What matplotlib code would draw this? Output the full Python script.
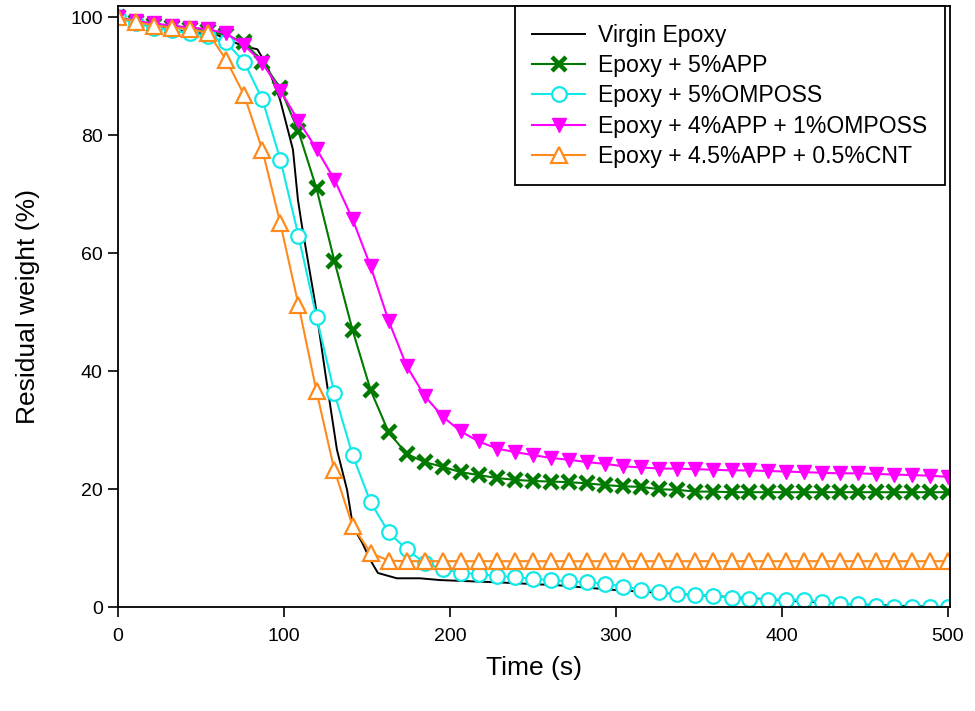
import matplotlib
matplotlib.use("Agg")
import matplotlib.pyplot as plt

plt.rcParams['font.family'] = ['Liberation Sans', 'DejaVu Sans']

# sampling times of the marker series (s)
time_s = [0, 10.9, 21.7, 32.6, 43.5, 54.3, 65.2, 76.1, 87.0, 97.8,
          108.7, 119.6, 130.4, 141.3, 152.2, 163.0, 173.9, 184.8, 195.7, 206.5,
          217.4, 228.3, 239.1, 250.0, 260.9, 271.7, 282.6, 293.5, 304.3, 315.2,
          326.1, 337.0, 347.8, 358.7, 369.6, 380.4, 391.3, 402.2, 413.0, 423.9,
          434.8, 445.7, 456.5, 467.4, 478.3, 489.1, 500.0]

# virgin epoxy (plain line)
virgin_t = [0, 20, 40, 60, 75, 84, 90, 97.6, 105.4, 108.4, 110.8, 118.7, 125,
            131.9, 138, 141.6, 147, 152, 156.6, 168, 182, 194, 230, 266, 300,
            370, 441, 500]
virgin_w = [100, 98.8, 97.6, 97.0, 95.2, 94.6, 91.7, 86.1, 77.6, 69.1, 64.7,
            51.7, 39.5, 26.7, 19.9, 13.6, 11.0, 8.0, 5.8, 4.9, 4.9, 4.6, 4.2,
            3.7, 2.9, 1.7, 0.5, 0.0]

app5 = [100, 99.2, 98.8, 98.4, 98.0, 97.7, 97.0, 95.8, 92.5, 88.0,
        80.7, 71.0, 58.7, 47.0, 36.8, 29.7, 26.0, 24.6, 23.8, 22.9,
        22.4, 21.9, 21.6, 21.4, 21.3, 21.2, 21.0, 20.7, 20.5, 20.4,
        20.0, 19.9, 19.6, 19.6, 19.5, 19.5, 19.5, 19.5, 19.5, 19.5,
        19.5, 19.5, 19.5, 19.5, 19.5, 19.5, 19.5]

omposs5 = [100, 99.0, 98.3, 97.8, 97.3, 96.9, 95.8, 92.4, 86.1, 75.9,
           63.0, 49.2, 36.3, 25.8, 17.8, 12.7, 9.8, 7.5, 6.5, 5.8,
           5.6, 5.3, 5.1, 4.8, 4.6, 4.4, 4.2, 4.0, 3.5, 3.0,
           2.6, 2.3, 2.1, 1.9, 1.6, 1.4, 1.3, 1.3, 1.2, 0.9,
           0.6, 0.5, 0.2, 0.1, 0.0, 0.0, 0.1]

app4_omposs1 = [100, 99.4, 99.0, 98.6, 98.3, 98.0, 97.3, 95.3, 92.3, 87.6,
                82.5, 77.7, 72.5, 65.8, 57.8, 48.6, 40.9, 35.8, 32.3, 29.8,
                28.1, 26.9, 26.3, 25.8, 25.3, 25.0, 24.6, 24.3, 23.9, 23.7,
                23.5, 23.5, 23.4, 23.3, 23.2, 23.2, 23.1, 23.0, 22.9, 22.8,
                22.7, 22.7, 22.6, 22.5, 22.4, 22.3, 22.1]

app45_cnt05 = [100, 99.3, 98.6, 98.3, 98.0, 97.4, 92.8, 86.8, 77.5, 65.1,
               51.3, 36.6, 23.2, 13.8, 9.2, 7.9, 7.8, 7.8, 7.8, 7.8,
               7.8, 7.8, 7.8, 7.8, 7.8, 7.8, 7.8, 7.8, 7.8, 7.8,
               7.8, 7.8, 7.8, 7.8, 7.8, 7.8, 7.8, 7.8, 7.8, 7.8,
               7.8, 7.8, 7.8, 7.8, 7.8, 7.8, 7.8]

labels = ["Virgin Epoxy", "Epoxy + 5%APP", "Epoxy + 5%OMPOSS",
          "Epoxy + 4%APP + 1%OMPOSS", "Epoxy + 4.5%APP + 0.5%CNT"]

fig = plt.figure(figsize=(9.75, 7.11), dpi=100)
ax = fig.add_axes([0.121, 0.146, 0.853, 0.846])

ax.plot(virgin_t, virgin_w, color="black", lw=1.4, label=labels[0])
ax.plot(time_s, app5, color="#007a00", lw=1.5, marker="x", ms=10, mew=3.2,
        label=labels[1])
ax.plot(time_s, omposs5, color="#11e8e8", lw=1.5, marker="o", ms=10.5,
        mfc="white", mew=1.6, label=labels[2])
ax.plot(time_s, app4_omposs1, color="#ff00ff", lw=1.5, marker="v", ms=10.5,
        label=labels[3])
ax.plot(time_s, app45_cnt05, color="#ff8a1c", lw=1.5, marker="^", ms=11,
        mfc="white", mew=1.6, label=labels[4])

ax.set_xlim(0, 501)
ax.set_ylim(0, 102)
ax.set_xticks([0, 100, 200, 300, 400, 500])
ax.set_yticks([0, 20, 40, 60, 80, 100])
ax.tick_params(direction="out", length=7, width=1.2, labelsize=14)
ax.tick_params(axis="x", pad=8)
ax.tick_params(axis="y", pad=4)
for sp in ax.spines.values():
    sp.set_linewidth(1.3)

ax.set_xlabel("Time (s)", fontsize=19, labelpad=8)
ax.set_ylabel("Residual weight (%)", fontsize=19, labelpad=22)

leg = ax.legend(loc="upper right", bbox_to_anchor=(0.994, 0.999),
                borderaxespad=0, fontsize=16.6, fancybox=False,
                edgecolor="black", framealpha=1, numpoints=1,
                handlelength=2.3, handletextpad=0.56, labelspacing=0.32,
                borderpad=0.75)
leg.get_frame().set_linewidth(1.3)

fig.savefig("out.png", dpi=100)
